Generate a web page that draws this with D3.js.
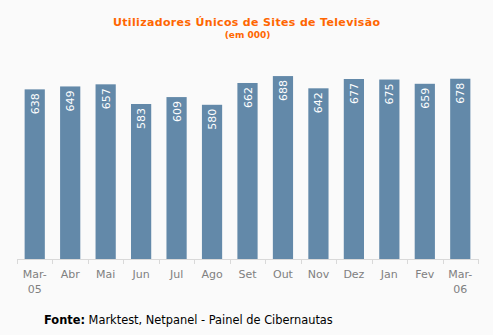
<!DOCTYPE html>
<html><head><meta charset="utf-8">
<script src="https://cdn.jsdelivr.net/npm/d3@7"></script>
<style>html,body{margin:0;padding:0;background:#fafafa;}svg{display:block;}</style>
</head><body>
<svg id="c" width="493" height="335"></svg>
<script>
const categories = ["Mar-05","Abr","Mai","Jun","Jul","Ago","Set","Out","Nov","Dez","Jan","Fev","Mar-06"];
const tickLabels = [["Mar-","05"],["Abr"],["Mai"],["Jun"],["Jul"],["Ago"],["Set"],["Out"],["Nov"],["Dez"],["Jan"],["Fev"],["Mar-","06"]];
const values = [638,649,657,583,609,580,662,688,642,677,675,659,678];
const title = "Utilizadores Únicos de Sites de Televisão";
const subtitle = "(em 000)";

const svg = d3.select("#c");
svg.append("rect").attr("width",493).attr("height",335).attr("fill","#fafafa");
const font = "'DejaVu Sans', Verdana, sans-serif";

const x = d3.scaleBand().domain(categories).range([17,478]).paddingInner(0.43).paddingOuter(0.215);
const y = d3.scaleLinear().domain([0,800]).range([259,46.3]);

const tt = svg.append("text").attr("x",246.5).attr("y",26).attr("text-anchor","middle")
  .attr("font-family",font).attr("font-weight","bold").attr("font-size",11).attr("fill","#ff6600").text(title);
tt.attr("textLength",267).attr("lengthAdjust","spacing");
svg.append("text").attr("x",247.5).attr("y",38).attr("text-anchor","middle")
  .attr("font-family",font).attr("font-weight","bold").attr("font-size",9).attr("fill","#ff6600").text(subtitle);

svg.selectAll("rect.bar").data(values).join("rect").attr("class","bar")
  .attr("x",(d,i)=>x(categories[i])).attr("width",x.bandwidth())
  .attr("y",d=>y(d)).attr("height",d=>y(0)-y(d)).attr("fill","#6389a9");

svg.selectAll("text.val").data(values).join("text").attr("class","val")
  .attr("transform",(d,i)=>`translate(${x(categories[i])+x.bandwidth()/2+4},${y(d)+4}) rotate(-90)`)
  .attr("text-anchor","end").attr("font-family",font).attr("font-size",11).attr("fill","#ffffff").text(d=>d);

// axis
const step = x.step();
const x0 = x(categories[0]) - step*x.paddingInner()/2;
svg.append("line").attr("x1",17).attr("x2",478).attr("y1",259.5).attr("y2",259.5).attr("stroke","#d9d9d9");
const bounds = d3.range(categories.length+1).map(i=>x0+i*step);
svg.selectAll("line.tk").data(bounds).join("line").attr("class","tk")
  .attr("x1",d=>Math.round(d)+0.5).attr("x2",d=>Math.round(d)+0.5).attr("y1",259).attr("y2",264).attr("stroke","#d9d9d9");

const tl = svg.selectAll("text.tl").data(categories).join("text").attr("class","tl")
  .attr("text-anchor","middle").attr("font-family",font).attr("font-size",11).attr("fill","#808080");
tl.each(function(c,i){
  const t = d3.select(this);
  tickLabels[i].forEach((s,j)=>{
    t.append("tspan").attr("x",x(c)+x.bandwidth()/2).attr("y",278+j*14.5).text(s);
  });
});

const f = svg.append("text").attr("x",44).attr("y",324).attr("font-family",font).attr("font-size",11.4).attr("fill","#000");
f.append("tspan").attr("font-weight","bold").text("Fonte:");
f.append("tspan").text(" Marktest, Netpanel - Painel de Cibernautas");
</script>
</body></html>
